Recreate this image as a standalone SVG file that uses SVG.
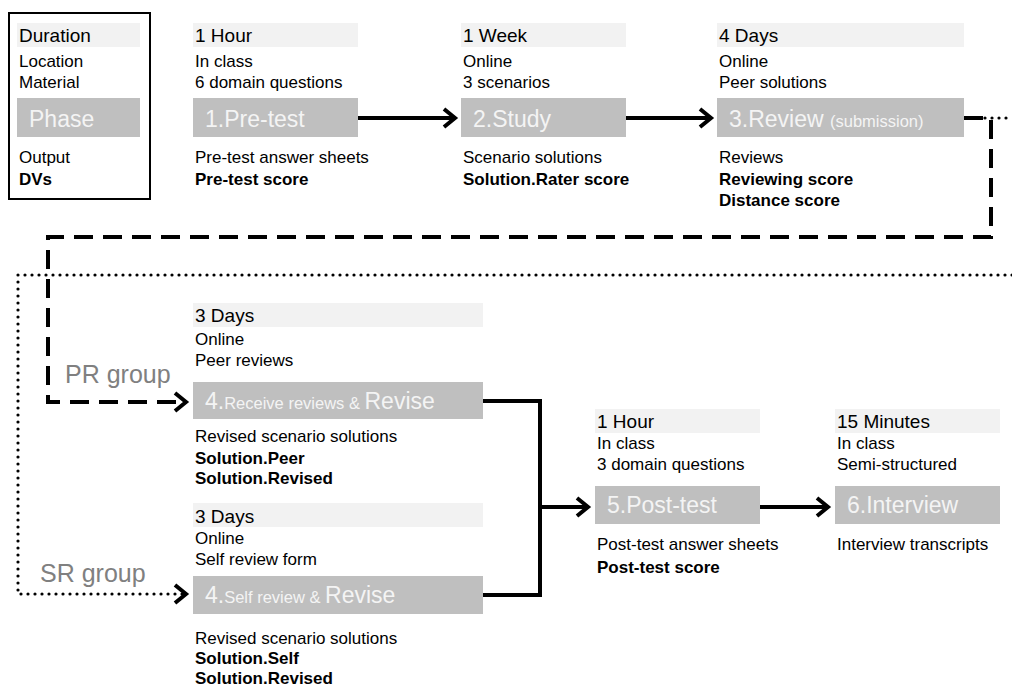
<svg xmlns="http://www.w3.org/2000/svg" width="1012" height="688" viewBox="0 0 1012 688">
<style>
text{font-family:"Liberation Sans",Arial,sans-serif;fill:#000}
.band{fill:#f2f2f2}
.box{fill:#bfbfbf}
.dur{font-size:19px}
.t{font-size:17px}
.b{font-size:17px;font-weight:bold}
.ph{font-size:23px;fill:#f4f4f4}
.sm{font-size:16.5px;fill:#f4f4f4}
.grp{font-size:25px;fill:#808080}
.solid{fill:none;stroke:#000;stroke-width:4}
.dash{fill:none;stroke:#000;stroke-width:4;stroke-dasharray:19 10}
.dot{fill:none;stroke:#000;stroke-width:3.2;stroke-linecap:round;stroke-dasharray:0 7}
</style>
<defs>
<marker id="chev" markerUnits="userSpaceOnUse" markerWidth="24" markerHeight="28" viewBox="-16 -14 24 28" refX="0" refY="0" orient="auto" overflow="visible">
<path d="M-11,-9 L0,0 L-11,9" fill="none" stroke="#000" stroke-width="4"/>
</marker>
</defs>
<rect width="1012" height="688" fill="#fff"/>

<g id="legend">
<rect x="9" y="13" width="141" height="186" fill="none" stroke="#000" stroke-width="2"/>
<rect class="band" x="17" y="23" width="123" height="24"/>
<text class="dur" x="19" y="42">Duration</text>
<text class="t" x="19" y="67">Location</text>
<text class="t" x="19" y="88">Material</text>
<rect class="box" x="17" y="98" width="123" height="39"/>
<text class="ph" x="29" y="127">Phase</text>
<text class="t" x="19" y="163">Output</text>
<text class="b" x="19" y="185">DVs</text>
</g>

<g id="connectors">
<path class="dot" d="M964 118 H1012"/>
<path class="dot" d="M1012 275 H18 V594 H186" marker-end="url(#chev)"/>
<path class="dash" d="M964 118 H991 V237 H48 V402 H186" marker-end="url(#chev)"/>
<path class="solid" d="M358 118 H455" marker-end="url(#chev)"/>
<path class="solid" d="M626 118 H711" marker-end="url(#chev)"/>
<path class="solid" d="M483 401 H540 V595 H483"/>
<path class="solid" d="M540 507 H588" marker-end="url(#chev)"/>
<path class="solid" d="M760 507 H828" marker-end="url(#chev)"/>
</g>

<g id="n1">
<rect class="band" x="193" y="23" width="165" height="24"/>
<text class="dur" x="195" y="42">1 Hour</text>
<text class="t" x="195" y="67">In class</text>
<text class="t" x="195" y="88">6 domain questions</text>
<rect class="box" x="193" y="98" width="165" height="39"/>
<text class="ph" x="205" y="127">1.Pre-test</text>
<text class="t" x="195" y="163">Pre-test answer sheets</text>
<text class="b" x="195" y="185">Pre-test score</text>
</g>

<g id="n2">
<rect class="band" x="461" y="23" width="165" height="24"/>
<text class="dur" x="463" y="42">1 Week</text>
<text class="t" x="463" y="67">Online</text>
<text class="t" x="463" y="88">3 scenarios</text>
<rect class="box" x="461" y="98" width="165" height="39"/>
<text class="ph" x="473" y="127">2.Study</text>
<text class="t" x="463" y="163">Scenario solutions</text>
<text class="b" x="463" y="185">Solution.Rater score</text>
</g>

<g id="n3">
<rect class="band" x="717" y="23" width="247" height="24"/>
<text class="dur" x="719" y="42">4 Days</text>
<text class="t" x="719" y="67">Online</text>
<text class="t" x="719" y="88">Peer solutions</text>
<rect class="box" x="717" y="98" width="247" height="39"/>
<text x="729" y="127"><tspan class="ph">3.Review </tspan><tspan class="sm">(submission)</tspan></text>
<text class="t" x="719" y="163">Reviews</text>
<text class="b" x="719" y="185">Reviewing score</text>
<text class="b" x="719" y="206">Distance score</text>
</g>

<g id="pr-label">
<text class="grp" x="65" y="383">PR group</text>
</g>
<g id="sr-label">
<text class="grp" x="40" y="582">SR group</text>
</g>

<g id="n4a">
<rect class="band" x="193" y="303" width="290" height="24"/>
<text class="dur" x="195" y="322">3 Days</text>
<text class="t" x="195" y="345">Online</text>
<text class="t" x="195" y="366">Peer reviews</text>
<rect class="box" x="193" y="382" width="290" height="37"/>
<text x="205" y="409"><tspan class="ph">4.</tspan><tspan class="sm">Receive reviews &amp; </tspan><tspan class="ph">Revise</tspan></text>
<text class="t" x="195" y="442">Revised scenario solutions</text>
<text class="b" x="195" y="464">Solution.Peer</text>
<text class="b" x="195" y="484">Solution.Revised</text>
</g>

<g id="n4b">
<rect class="band" x="193" y="503" width="290" height="24"/>
<text class="dur" x="195" y="523">3 Days</text>
<text class="t" x="195" y="544">Online</text>
<text class="t" x="195" y="565">Self review form</text>
<rect class="box" x="193" y="576" width="290" height="38"/>
<text x="205" y="603"><tspan class="ph">4.</tspan><tspan class="sm">Self review &amp; </tspan><tspan class="ph">Revise</tspan></text>
<text class="t" x="195" y="644">Revised scenario solutions</text>
<text class="b" x="195" y="664">Solution.Self</text>
<text class="b" x="195" y="684">Solution.Revised</text>
</g>

<g id="n5">
<rect class="band" x="595" y="409" width="165" height="24"/>
<text class="dur" x="597" y="428">1 Hour</text>
<text class="t" x="597" y="449">In class</text>
<text class="t" x="597" y="470">3 domain questions</text>
<rect class="box" x="595" y="486" width="165" height="38"/>
<text class="ph" x="607" y="513">5.Post-test</text>
<text class="t" x="597" y="550">Post-test answer sheets</text>
<text class="b" x="597" y="573">Post-test score</text>
</g>

<g id="n6">
<rect class="band" x="835" y="409" width="165" height="24"/>
<text class="dur" x="837" y="428">15 Minutes</text>
<text class="t" x="837" y="449">In class</text>
<text class="t" x="837" y="470">Semi-structured</text>
<rect class="box" x="835" y="486" width="165" height="38"/>
<text class="ph" x="847" y="513">6.Interview</text>
<text class="t" x="837" y="550">Interview transcripts</text>
</g>
</svg>
